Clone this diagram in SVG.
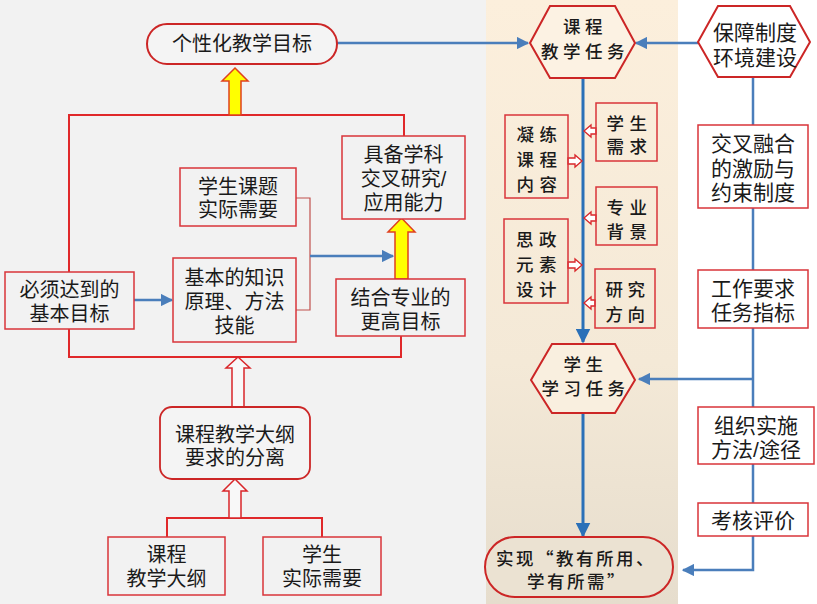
<svg xmlns="http://www.w3.org/2000/svg" width="817" height="604" viewBox="0 0 817 604">
<defs>
<linearGradient id="beige" x1="0" y1="0" x2="0" y2="1">
<stop offset="0" stop-color="#fcefdc"/>
<stop offset="0.6" stop-color="#f4e9d7"/>
<stop offset="1" stop-color="#e6ddcd"/>
</linearGradient>
<marker id="ab" viewBox="0 0 10 10" refX="9" refY="5" markerWidth="5" markerHeight="5" orient="auto" markerUnits="strokeWidth">
<path d="M0,0 L10,5 L0,10 Z" fill="#4a7ebb"/>
</marker>
<marker id="ab2" viewBox="0 0 10 10" refX="9" refY="5" markerWidth="5" markerHeight="5" orient="auto" markerUnits="strokeWidth">
<path d="M0,0 L10,5 L0,10 Z" fill="#2a70b8"/>
</marker>
<style>
text{font-family:"Liberation Sans","Noto Sans CJK SC",sans-serif;fill:#1a1a1a;text-anchor:middle;dominant-baseline:central}
.t20{font-size:20px}
.t21{font-size:21px}
.k{font-family:"Noto Sans CJK SC",sans-serif;font-size:17.5px;font-weight:500;letter-spacing:4.5px}
.ks{font-family:"Noto Sans CJK SC",sans-serif;font-size:17.5px;font-weight:500;letter-spacing:5.5px}
.box{fill:#f2f2f2;stroke:#d9343a;stroke-width:1.5}
.boxm{fill:none;stroke:#d9343a;stroke-width:1.5}
.boxw{fill:#fff;stroke:#d9343a;stroke-width:1.5}
.stad{fill:#f4f4f4;stroke:#cc2626;stroke-width:2}
.frame{fill:none;stroke:#e0282a;stroke-width:2}
.yel{fill:#ffff00;stroke:#e0401e;stroke-width:1.5}
.hol{fill:#f8f8f8;stroke:#d9262a;stroke-width:1.5}
.holm{fill:#fff;stroke:#d9262a;stroke-width:1.3}
.bl{fill:none;stroke:#4a7ebb;stroke-width:2.5}
.bl2{fill:none;stroke:#2a70b8;stroke-width:3}
.br{fill:none;stroke:#c0504d;stroke-width:1.2}
</style>
</defs>
<rect x="0" y="0" width="817" height="604" fill="#ffffff"/>
<rect x="0" y="0" width="486" height="604" fill="#f2f2f2"/>
<rect x="486" y="0" width="192" height="604" fill="url(#beige)"/>

<g id="connectors">
<polyline class="frame" points="404,136 404,115 69,115 69,272"/>
<polyline class="frame" points="69,329 69,357 401,357 401,336"/>
<polyline class="frame" points="167,537 167,518 322,518 322,537"/>
<polyline class="br" points="296,198 310,198 310,310 296,310"/>
<line class="bl" x1="310" y1="256" x2="393" y2="256" marker-end="url(#ab)"/>
<line class="bl" x1="134" y1="300" x2="172" y2="300" marker-end="url(#ab)"/>
<line class="bl" x1="337" y1="43" x2="528" y2="43" marker-end="url(#ab)"/>
<line class="bl" x1="698" y1="43" x2="636" y2="43" marker-end="url(#ab)"/>
<polyline class="bl" points="753,77 753,125"/>
<polyline class="bl" points="753,208 753,270"/>
<polyline class="bl" points="753,328 753,407"/>
<polyline class="bl" points="753,464 753,503"/>
<polyline class="bl" points="753,379 639,379" marker-end="url(#ab)"/>
<polyline class="bl" points="753,536 753,570 683,570" marker-end="url(#ab)"/>
<line class="bl2" x1="583" y1="78" x2="583" y2="342" marker-end="url(#ab2)"/>
<line class="bl2" x1="583" y1="413" x2="583" y2="536" marker-end="url(#ab2)"/>
<polygon class="yel" points="235,68 248,81 241,81 241,115 229,115 229,81 222,81"/>
<polygon class="yel" points="401.5,218 415,232 408,232 408,279 395,279 395,232 388,232"/>
<polygon class="hol" points="238,357 250,368 244,368 244,407 232,407 232,368 226,368"/>
<polygon class="hol" points="235,479 247,491 241,491 241,518 229,518 229,491 223,491"/>
<polygon class="holm" points="584,131 591,125 591,128 596,128 596,134 591,134 591,137"/>
<polygon class="holm" points="582,161 575,155 575,158 568,158 568,164 575,164 575,167"/>
<polygon class="holm" points="584,218 591,212 591,215 596,215 596,221 591,221 591,224"/>
<polygon class="holm" points="582,265 575,259 575,262 568,262 568,268 575,268 575,271"/>
<polygon class="holm" points="584,303 591,297 591,300 595,300 595,306 591,306 591,309"/>
</g>

<g id="n-goal">
<rect class="stad" x="147" y="24" width="190" height="40" rx="20"/>
<text class="t20" x="242" y="44">个性化教学目标</text>
</g>
<g id="n-ability">
<rect class="box" x="342" y="136" width="123" height="83"/>
<text class="t20" x="403.5" y="155">具备学科</text>
<text class="t20" x="403.5" y="179">交叉研究/</text>
<text class="t20" x="403.5" y="203">应用能力</text>
</g>
<g id="n-topic">
<rect class="box" x="180" y="168" width="116" height="58"/>
<text class="t20" x="238" y="187">学生课题</text>
<text class="t20" x="238" y="210">实际需要</text>
</g>
<g id="n-basicknow">
<rect class="box" x="173" y="258" width="123" height="84"/>
<text class="t20" x="234.5" y="278">基本的知识</text>
<text class="t20" x="234.5" y="302">原理、方法</text>
<text class="t20" x="234.5" y="326">技能</text>
</g>
<g id="n-basicgoal">
<rect class="box" x="5" y="272" width="129" height="57"/>
<text class="t20" x="69.5" y="290">必须达到的</text>
<text class="t20" x="69.5" y="314">基本目标</text>
</g>
<g id="n-higher">
<rect class="box" x="336" y="279" width="129" height="57"/>
<text class="t20" x="400.5" y="298">结合专业的</text>
<text class="t20" x="400.5" y="322">更高目标</text>
</g>
<g id="n-separate">
<rect class="stad" x="160" y="407" width="150" height="72" rx="12" style="stroke-width:1.8"/>
<text class="t20" x="235" y="435">课程教学大纲</text>
<text class="t20" x="235" y="458">要求的分离</text>
</g>
<g id="n-syllabus">
<rect class="box" x="108" y="537" width="117" height="58"/>
<text class="t20" x="166.5" y="555">课程</text>
<text class="t20" x="166.5" y="579">教学大纲</text>
</g>
<g id="n-needs">
<rect class="box" x="263" y="537" width="118" height="58"/>
<text class="t20" x="322" y="555">学生</text>
<text class="t20" x="322" y="579">实际需要</text>
</g>

<g id="n-coursetask">
<polygon points="530,43 550,6 615,6 635,43 615,78 550,78" fill="#fcf2e3" stroke="#cc2626" stroke-width="2"/>
<text class="k" x="585" y="25">课程</text>
<text class="k" x="585" y="50">教学任务</text>
</g>
<g id="n-studneed">
<rect class="boxm" x="596" y="103" width="61" height="58"/>
<text class="ks" x="629.5" y="122">学生</text>
<text class="ks" x="629.5" y="145">需求</text>
</g>
<g id="n-condense">
<rect class="boxm" x="505" y="115" width="63" height="83"/>
<text class="ks" x="539.5" y="133">凝练</text>
<text class="ks" x="539.5" y="158">课程</text>
<text class="ks" x="539.5" y="183">内容</text>
</g>
<g id="n-major">
<rect class="boxm" x="596" y="187" width="61" height="58"/>
<text class="ks" x="629.5" y="206">专业</text>
<text class="ks" x="629.5" y="230">背景</text>
</g>
<g id="n-ideo">
<rect class="boxm" x="504" y="219" width="64" height="84"/>
<text class="ks" x="539" y="238">思政</text>
<text class="ks" x="539" y="263">元素</text>
<text class="ks" x="539" y="288">设计</text>
</g>
<g id="n-research">
<rect class="boxm" x="595" y="269" width="60" height="59"/>
<text class="k" x="627.5" y="288">研究</text>
<text class="k" x="627.5" y="313">方向</text>
</g>
<g id="n-studtask">
<polygon points="531,380 552,344 615,344 635,380 615,413 552,413" fill="#f9efdf" stroke="#cc2626" stroke-width="2"/>
<text class="k" x="585.5" y="363">学生</text>
<text class="k" x="585.5" y="387">学习任务</text>
</g>
<g id="n-realize">
<rect x="485" y="537" width="188" height="60" rx="30" fill="#ebe2d2" stroke="#cc2626" stroke-width="2"/>
<text class="k" x="576" y="557" style="letter-spacing:2.5px">实现“教有所用、</text>
<text class="k" x="577" y="580" style="letter-spacing:2.5px">学有所需”</text>
</g>

<g id="n-guarantee">
<polygon points="698,42 718,6 790,6 810,42 790,77 718,77" fill="#fff" stroke="#cc2626" stroke-width="2"/>
<text class="t21" x="755" y="32">保障制度</text>
<text class="t21" x="755" y="57">环境建设</text>
</g>
<g id="n-incentive">
<rect class="boxw" x="698" y="125" width="110" height="83"/>
<text class="t21" x="753" y="143">交叉融合</text>
<text class="t21" x="753" y="168">的激励与</text>
<text class="t21" x="753" y="192">约束制度</text>
</g>
<g id="n-work">
<rect class="boxw" x="698" y="270" width="110" height="58"/>
<text class="t21" x="753" y="288">工作要求</text>
<text class="t21" x="753" y="312">任务指标</text>
</g>
<g id="n-organize">
<rect class="boxw" x="698" y="407" width="116" height="57"/>
<text class="t21" x="756" y="425">组织实施</text>
<text class="t21" x="756" y="449">方法/途径</text>
</g>
<g id="n-assess">
<rect class="boxw" x="698" y="503" width="110" height="33"/>
<text class="t21" x="753" y="520">考核评价</text>
</g>
</svg>
